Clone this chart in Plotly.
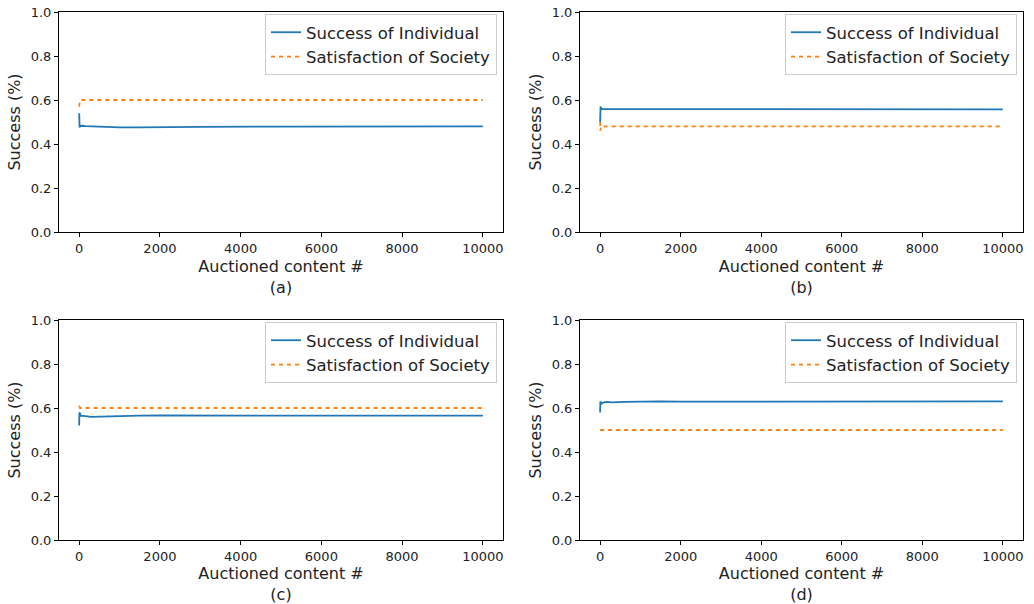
import plotly.graph_objects as go

# ---- data ----
x_pts = [0, 5, 10, 20, 40, 80, 150, 300, 600, 1000, 1500, 2000, 3000, 5000, 7000, 10000]

ind_a = [0.54, 0.49, 0.475, 0.485, 0.482, 0.483, 0.481, 0.480, 0.478, 0.476, 0.476, 0.477, 0.478, 0.479, 0.479, 0.480]
soc_a = [0.57, 0.58, 0.60, 0.60, 0.60, 0.60, 0.60, 0.60, 0.60, 0.60, 0.60, 0.60, 0.60, 0.60, 0.60, 0.60]

ind_b = [0.50, 0.55, 0.57, 0.565, 0.560, 0.560, 0.558, 0.560, 0.560, 0.560, 0.559, 0.559, 0.558, 0.557, 0.557, 0.557]
soc_b = [0.50, 0.46, 0.475, 0.48, 0.48, 0.48, 0.48, 0.48, 0.48, 0.48, 0.48, 0.48, 0.48, 0.48, 0.48, 0.48]

ind_c = [0.52, 0.58, 0.57, 0.575, 0.565, 0.565, 0.563, 0.560, 0.562, 0.564, 0.565, 0.566, 0.566, 0.566, 0.565, 0.565]
soc_c = [0.61, 0.605, 0.60, 0.60, 0.60, 0.60, 0.60, 0.60, 0.60, 0.60, 0.60, 0.60, 0.60, 0.60, 0.60, 0.60]

ind_d = [0.58, 0.63, 0.615, 0.625, 0.620, 0.625, 0.628, 0.626, 0.628, 0.630, 0.630, 0.629, 0.629, 0.630, 0.630, 0.630]
soc_d = [0.50, 0.50, 0.50, 0.50, 0.50, 0.50, 0.50, 0.50, 0.50, 0.50, 0.50, 0.50, 0.50, 0.50, 0.50, 0.50]

panels = [("a", ind_a, soc_a), ("b", ind_b, soc_b), ("c", ind_c, soc_c), ("d", ind_d, soc_d)]
x_ticks = [0, 2000, 4000, 6000, 8000, 10000]
x_tick_labels = ["0", "2000", "4000", "6000", "8000", "10000"]
y_ticks = [0.0, 0.2, 0.4, 0.6, 0.8, 1.0]

W, H = 1034, 604
# plot-area boxes in window pixels (left, right, top, bottom)
boxes = [(59, 503, 12, 232), (580, 1023, 12, 232), (59, 503, 320, 540), (580, 1023, 320, 540)]

BLUE = "#1f77b4"
ORANGE = "#ff7f0e"
FONT = "DejaVu Sans, Liberation Sans, sans-serif"

fig = go.Figure()
layout = {}
for i, ((lab, ind, soc), (l, r, t, b)) in enumerate(zip(panels, boxes)):
    n = "" if i == 0 else str(i + 1)
    xa, ya = "x" + n, "y" + n
    lg = "legend" + n
    fig.add_trace(go.Scatter(x=x_pts, y=ind, mode="lines", name="Success of Individual",
                             line=dict(color=BLUE, width=1.8), xaxis=xa, yaxis=ya, legend=lg))
    fig.add_trace(go.Scatter(x=x_pts, y=soc, mode="lines", name="Satisfaction of Society",
                             line=dict(color=ORANGE, width=1.8, dash="4px,4px"), xaxis=xa, yaxis=ya, legend=lg))
    common = dict(showgrid=False, zeroline=False, showline=True, linecolor="black", linewidth=1,
                  mirror=True, ticks="outside", ticklen=4, tickcolor="black", automargin=False,
                  tickfont=dict(size=13, color="#222", family=FONT))
    layout["xaxis" + n] = dict(domain=[l / W, r / W], range=[-500, 10500], tickvals=x_ticks,
                               ticktext=x_tick_labels,
                               title=dict(text="Auctioned content #<br>(" + lab + ")", standoff=6,
                                          font=dict(size=16, color="#222", family=FONT)),
                               anchor=ya, **common)
    layout["yaxis" + n] = dict(domain=[(H - b) / H, (H - t) / H], range=[0, 1], tickvals=y_ticks,
                               tickformat=".1f",
                               title=dict(text="Success (%)", standoff=6,
                                          font=dict(size=16, color="#222", family=FONT)),
                               anchor=xa, **common)
    layout[lg] = dict(x=(r - 6) / W, y=(H - t - 2) / H, xanchor="right", yanchor="top",
                      bgcolor="rgba(255,255,255,0.8)", bordercolor="#ccc", borderwidth=1,
                      font=dict(size=16.5, color="#222", family=FONT), tracegroupgap=2)

fig.update_layout(width=W, height=H, margin=dict(l=0, r=0, t=0, b=0),
                  plot_bgcolor="white", paper_bgcolor="white",
                  font=dict(family=FONT), **layout)
fig.write_html("out.html", config={"displayModeBar": False},
               post_script="document.body.style.margin='0';document.body.style.overflow='hidden';")
